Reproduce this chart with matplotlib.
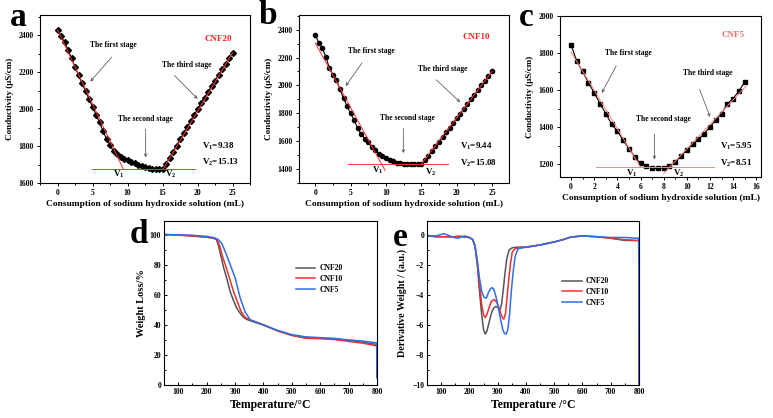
import matplotlib
matplotlib.use("Agg")
import matplotlib.pyplot as plt
from matplotlib.ticker import MultipleLocator

plt.rcParams['font.family'] = ['Liberation Serif', 'DejaVu Serif']
plt.rcParams['font.weight'] = 'bold'
plt.rcParams['axes.labelweight'] = 'bold'
plt.rcParams['mathtext.fontset'] = 'custom'
plt.rcParams['mathtext.rm'] = 'Liberation Serif:bold'
plt.rcParams['mathtext.it'] = 'Liberation Serif:bold'
plt.rcParams['mathtext.bf'] = 'Liberation Serif:bold'

# ---- titration data (mL, uS/cm) ----
vol_a = [i * 0.5 for i in range(51)]
cond_a = [2430, 2398, 2362, 2322, 2278, 2228, 2185, 2140, 2098, 2055, 2012, 1970, 1928, 1880,
          1840, 1805, 1772, 1755, 1742, 1732, 1722, 1714, 1706, 1699, 1692, 1686, 1681, 1678,
          1676, 1675, 1676, 1703, 1737, 1770, 1803, 1836, 1869, 1902, 1935, 1968, 2000, 2031,
          2062, 2093, 2124, 2155, 2185, 2215, 2246, 2276, 2306]
vol_b = [i * 0.5 for i in range(51)]
cond_b = [2364, 2304, 2268, 2203, 2126, 2075, 2040, 1972, 1907, 1852, 1799, 1751, 1691, 1650,
          1619, 1595, 1559, 1535, 1510, 1494, 1479, 1467, 1455, 1445, 1440, 1438, 1437, 1437,
          1437, 1437, 1438, 1462, 1496, 1529, 1563, 1597, 1630, 1664, 1697, 1731, 1765, 1798,
          1832, 1865, 1899, 1933, 1966, 2000, 2033, 2067, 2100]
vol_c = [i * 0.5 for i in range(31)]
cond_c = [1845, 1755, 1701, 1640, 1585, 1527, 1473, 1416, 1378, 1329, 1284, 1239, 1203, 1189,
          1176, 1176, 1180, 1191, 1209, 1245, 1275, 1306, 1333, 1365, 1401, 1437, 1473, 1527,
          1554, 1595, 1644]

# fitted stage lines (x pairs, y pairs)
fit_a = [([0, 9.4], [2430, 1675]), ([4.9, 19.7], [1675, 1675]), ([15.1, 25], [1675, 2306])]
fit_b = [([0, 9.87], [2304, 1390]), ([4.6, 18.8], [1433, 1433]), ([15.0, 25], [1436, 2100])]
fit_c = [([0, 5.98], [1806, 1185]), ([2.17, 12.3], [1182, 1182]), ([8.0, 15.1], [1149, 1620])]

# ---- TGA data ----
t20 = [50, 100, 150, 200, 225, 235, 242, 250, 260, 270, 283, 295, 305, 313, 325, 335, 345, 360,
       400, 450, 500, 550, 600, 650, 700, 750, 780, 799, 800]
w20 = [100, 99.6, 99, 98.2, 97.5, 96.5, 92.5, 86, 78, 71.5, 62, 56, 51.5, 49, 46, 44.3, 43.3,
       42.3, 39.8, 36, 33, 31.5, 31, 30.5, 29.5, 28.5, 27.5, 27, 5]
t10 = [50, 100, 150, 200, 225, 237, 246, 255, 270, 283, 295, 308, 321, 333, 344, 360, 400, 450,
       500, 550, 600, 650, 700, 750, 780, 799, 800]
w10 = [100, 99.7, 99.2, 98.3, 97.6, 96.6, 92.5, 86, 77.5, 69.5, 62, 55.5, 49, 45.5, 44, 42.8,
       40, 36, 33, 31, 30.8, 30.2, 29, 27.8, 26.7, 26, 5]
t5 = [50, 100, 150, 200, 225, 240, 254, 268, 283, 301, 318, 336, 354, 365, 400, 450, 500, 550,
      600, 650, 700, 750, 780, 799, 800]
w5 = [100, 99.8, 99.5, 98.8, 98, 96.8, 94, 87.5, 80, 71, 58, 48.4, 43.3, 42.5, 40, 36.3, 33.5,
      32, 31.5, 31, 30, 29.2, 28.5, 28, 5]

# ---- DTG data ----
dt20 = [50, 80, 110, 140, 170, 200, 212, 220, 228, 236, 244, 250, 256, 262, 270, 278, 286, 294,
        302, 308, 314, 320, 326, 332, 340, 350, 365, 400, 450, 500, 530, 560, 600, 650, 700,
        750, 790, 799, 800]
d20 = [-0.05, -0.1, -0.1, -0.1, -0.1, -0.15, -0.3, -0.8, -2.0, -3.8, -5.4, -6.3, -6.6, -6.4,
       -5.8, -5.2, -4.85, -4.75, -4.85, -5.0, -4.6, -3.6, -2.5, -1.6, -1.0, -0.85, -0.8, -0.8,
       -0.65, -0.45, -0.3, -0.12, -0.05, -0.1, -0.2, -0.35, -0.35, -0.35, -10]
dt10 = [50, 80, 110, 140, 165, 180, 200, 212, 220, 228, 236, 244, 250, 256, 262, 270, 278, 287,
        296, 304, 312, 318, 322, 328, 334, 340, 346, 352, 362, 375, 400, 450, 500, 530, 560,
        600, 650, 700, 750, 790, 799, 800]
d10 = [0.0, -0.1, -0.1, -0.12, -0.05, -0.1, -0.15, -0.3, -0.7, -1.8, -3.3, -4.7, -5.3, -5.5,
       -5.3, -4.8, -4.4, -4.3, -4.45, -4.8, -5.3, -5.55, -5.6, -5.2, -4.0, -2.8, -1.8, -1.1,
       -0.9, -0.82, -0.8, -0.65, -0.45, -0.3, -0.12, -0.05, -0.1, -0.2, -0.3, -0.35, -0.35, -10]
dt5 = [50, 80, 100, 110, 125, 145, 160, 172, 185, 200, 212, 220, 228, 236, 244, 252, 260, 268,
       275, 280, 286, 294, 302, 310, 318, 324, 330, 336, 342, 348, 355, 362, 372, 400, 450,
       500, 530, 560, 600, 650, 700, 750, 790, 799, 800]
d5 = [-0.05, -0.05, 0.05, 0.1, 0.0, -0.15, -0.2, -0.1, -0.05, -0.15, -0.3, -0.7, -1.7, -2.9,
      -3.8, -4.15, -4.2, -3.8, -3.55, -3.5, -3.6, -4.1, -4.8, -5.6, -6.3, -6.55, -6.6, -6.3,
      -5.3, -3.8, -2.4, -1.4, -0.9, -0.8, -0.65, -0.45, -0.3, -0.12, -0.05, -0.1, -0.15,
      -0.15, -0.2, -0.2, -10]

W, H = 773, 418
fig = plt.figure(figsize=(W / 100, H / 100), dpi=100)


def box(x0, y0, x1, y1):
    return fig.add_axes([x0 / W, 1 - y1 / H, (x1 - x0) / W, (y1 - y0) / H])


def style(ax, direction, fs=5.5):
    ax.tick_params(which='both', direction=direction, labelsize=fs, width=0.7, pad=2)
    ax.tick_params(which='major', length=2.5)
    ax.tick_params(which='minor', length=1.5)
    for s in ax.spines.values():
        s.set_linewidth(0.8)


xlab = 'Consumption of sodium hydroxide solution (mL)'
ylab = 'Conductivity (\u03bcS/cm)'


def titration(ax, x, y, marker, fits, fitcol, xlim, ylim, xmaj, ymaj, name, namecol,
              namepos, v1, v2, vpos, ann, vlab):
    ax.plot(x, y, '-', color='black', lw=0.8, marker=marker, ms=3, zorder=3)
    for fx, fy in fits:
        ax.plot(fx, fy, '-', color=fitcol, lw=0.7, zorder=4)
    ax.set_xlim(*xlim)
    ax.set_ylim(*ylim)
    ax.xaxis.set_major_locator(MultipleLocator(xmaj))
    ax.xaxis.set_minor_locator(MultipleLocator(xmaj / 2))
    ax.yaxis.set_major_locator(MultipleLocator(ymaj))
    ax.yaxis.set_minor_locator(MultipleLocator(ymaj / 2))
    style(ax, 'out')
    ax.set_xlabel(xlab, fontsize=6.8, labelpad=2)
    ax.set_ylabel(ylab, fontsize=6.5, labelpad=3)
    ax.text(*namepos, name, color=namecol, fontsize=6.5, ha='center', va='center')
    ax.text(vpos[0], vpos[1], r'V$_{\rm 1}$=' + v1, fontsize=6.5, va='center')
    ax.text(vpos[0], vpos[2], r'V$_{\rm 2}$=' + v2, fontsize=6.5, va='center')
    for txt, tpos, a0, a1 in ann:
        ax.text(*tpos, txt, fontsize=5.5, ha='center', va='center')
        ax.annotate('', xy=a1, xytext=a0,
                    arrowprops=dict(arrowstyle='->', color='#444444', lw=0.5,
                                    shrinkA=0, shrinkB=0, mutation_scale=5))
    ax.text(*vlab[0], r'V$_{\rm 1}$', fontsize=6.5, ha='center', va='center')
    ax.text(*vlab[1], r'V$_{\rm 2}$', fontsize=6.5, ha='center', va='center')


ax_a = box(40, 15, 250, 183)
titration(ax_a, vol_a, cond_a, 'D', fit_a, '#ff3030', (-2.5, 27.5), (1600, 2510), 5, 200,
          'CNF20', '#ff2020', (23.0, 2382), '9.38', '15.13', (20.6, 1797, 1712),
          [('The first stage', (8.0, 2345), (7.75, 2282), (4.7, 2150)),
           ('The third stage', (18.5, 2237), (16.7, 2183), (20.0, 2056)),
           ('The second stage', (12.6, 1944), (12.6, 1893), (12.6, 1739))],
          [(8.7, 1649), (16.2, 1649)])

ax_b = box(299, 15, 509, 183)
titration(ax_b, vol_b, cond_b, 'o', fit_b, '#ff3030', (-2.3, 27.4), (1300, 2505), 5, 200,
          'CNF10', '#ff2020', (22.8, 2347), '9.44', '15.08', (20.4, 1559, 1438),
          [('The first stage', (7.9, 2245), (6.6, 2160), (4.3, 1996)),
           ('The third stage', (18.1, 2116), (17.1, 2040), (20.5, 1880)),
           ('The second stage', (13.1, 1763), (12.45, 1691), (12.45, 1515))],
          [(8.9, 1390), (16.4, 1378)])

ax_c = box(560, 16, 761, 177)
titration(ax_c, vol_c, cond_c, 's', fit_c, '#ff8080', (-0.95, 16.4), (1130, 2000), 2, 200,
          'CNF5', '#ff6a6a', (14.0, 1896), '5.95', '8.51', (12.9, 1297, 1203),
          [('The first stage', (4.97, 1802), (3.9, 1730), (2.66, 1585)),
           ('The third stage', (11.8, 1692), (11.1, 1603), (12.0, 1455)),
           ('The second stage', (7.95, 1442), (7.2, 1362), (7.2, 1225))],
          [(5.26, 1150), (9.3, 1150)])

cols = {'CNF20': '#555555', 'CNF10': '#f03030', 'CNF5': '#2e6fe6'}

ax_d = box(164, 221, 377, 385)
ax_d.plot(t20, w20, color=cols['CNF20'], lw=1.1, label='CNF20')
ax_d.plot(t10, w10, color=cols['CNF10'], lw=1.1, label='CNF10')
ax_d.plot(t5, w5, color=cols['CNF5'], lw=1.1, label='CNF5')
ax_d.set_xlim(50, 800)
ax_d.set_ylim(0, 109)
ax_d.xaxis.set_major_locator(MultipleLocator(100))
ax_d.xaxis.set_minor_locator(MultipleLocator(50))
ax_d.yaxis.set_major_locator(MultipleLocator(20))
ax_d.yaxis.set_minor_locator(MultipleLocator(10))
style(ax_d, 'in')
ax_d.set_xlabel('Temperature/\u00b0C', fontsize=8.5, labelpad=2)
ax_d.set_ylabel('Weight Loss/%', fontsize=7.5, labelpad=3)
ax_d.legend(loc='upper left', bbox_to_anchor=(0.6, 0.76), frameon=False, fontsize=5.5,
            handlelength=2.6, handletextpad=0.5, labelspacing=0.35, borderpad=0)

ax_e = box(427, 221, 639, 385)
ax_e.plot(dt20, d20, color=cols['CNF20'], lw=1.1, label='CNF20')
ax_e.plot(dt10, d10, color=cols['CNF10'], lw=1.1, label='CNF10')
ax_e.plot(dt5, d5, color=cols['CNF5'], lw=1.1, label='CNF5')
ax_e.set_xlim(50, 800)
ax_e.set_ylim(-10, 0.95)
ax_e.xaxis.set_major_locator(MultipleLocator(100))
ax_e.xaxis.set_minor_locator(MultipleLocator(50))
ax_e.yaxis.set_major_locator(MultipleLocator(2))
ax_e.yaxis.set_minor_locator(MultipleLocator(1))
style(ax_e, 'in')
ax_e.set_xlabel('Temperature /\u00b0C', fontsize=8.5, labelpad=2)
ax_e.set_ylabel('Derivative Weight / (a.u.)', fontsize=7.2, labelpad=4)
ax_e.legend(loc='upper left', bbox_to_anchor=(0.62, 0.68), frameon=False, fontsize=5.5,
            handlelength=2.6, handletextpad=0.5, labelspacing=0.35, borderpad=0)

# panel letters
for ch, px, py in [('a', 10, 26), ('b', 259, 24), ('c', 519, 26), ('d', 130, 243), ('e', 393, 246)]:
    fig.text(px / W, 1 - py / H, ch, fontsize=24, fontweight='bold', ha='left', va='baseline')

fig.savefig('out.png', dpi=100)
